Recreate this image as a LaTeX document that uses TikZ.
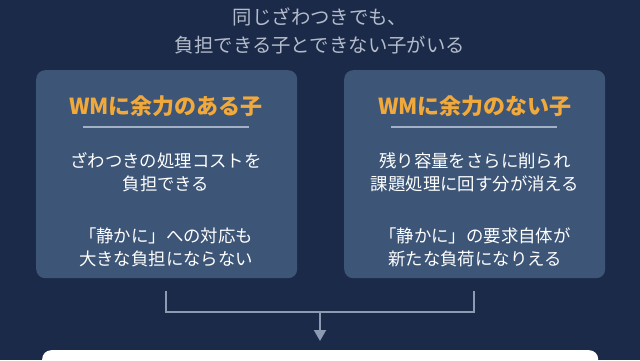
\documentclass[tikz,border=0pt]{standalone}
\usepackage{fontspec}
\setmainfont{Noto Sans CJK JP}
\usetikzlibrary{arrows.meta}
\definecolor{bg}{HTML}{1B2A48}
\definecolor{boxfill}{HTML}{3D5577}
\definecolor{headc}{HTML}{F2A93B}
\definecolor{rulec}{HTML}{A3B1C6}
\definecolor{titlec}{HTML}{B4BCCB}
\definecolor{connc}{HTML}{8C9BB1}
\tikzset{
  panel/.style={fill=boxfill, rounded corners=9pt, draw=none},
  heading/.style={text=headc, font=\fontsize{22}{26}\selectfont\bfseries, inner sep=0pt},
  bodytxt/.style={text=white, font=\fontsize{17.4}{23}\selectfont, align=center, inner sep=0pt},
  titletxt/.style={text=titlec, font=\fontsize{19.4}{28}\selectfont, align=center, inner sep=0pt},
  hrule/.style={rulec, line width=1.5pt},
  conn/.style={connc, line width=2pt},
}
\begin{document}
\begin{tikzpicture}[x=1pt,y=-1pt]
\fill[bg] (0,0) rectangle (640,360);
\useasboundingbox (0,0) rectangle (640,360);
\node[titletxt] (title) at (320,31) {同じざわつきでも、\\負担できる子とできない子がいる};
% left panel
\node[panel, minimum width=261pt, minimum height=208pt, anchor=north west] (lbox) at (36,70) {};
\node[heading] (lhead) at (166,106) {WMに余力のある子};
\coordinate (lr1) at (83,127);
\coordinate (lr2) at (249,127);
\draw[hrule] (lr1) -- (lr2);
\node[bodytxt] (lb1) at (166,172) {ざわつきの処理コストを\\負担できる};
\node[bodytxt] (lb2) at (166,247) {「静かに」への対応も\\大きな負担にならない};
% right panel
\node[panel, minimum width=261pt, minimum height=208pt, anchor=north west] (rbox) at (344,70) {};
\node[heading] (rhead) at (475,106) {WMに余力のない子};
\coordinate (rr1) at (391,127);
\coordinate (rr2) at (557,127);
\draw[hrule] (rr1) -- (rr2);
\node[bodytxt] (rb1) at (475,172) {残り容量をさらに削られ\\課題処理に回す分が消える};
\node[bodytxt] (rb2) at (475,247) {「静かに」の要求自体が\\新たな負荷になりえる};
% bottom white panel
\node[fill=white, rounded corners=9pt, minimum width=556pt, minimum height=60pt, anchor=north west] (wbox) at (42,350) {};
% connectors
\coordinate (la) at (166,291);
\coordinate (ra) at (474,291);
\coordinate (lb) at (166,312);
\coordinate (rb) at (474,312);
\coordinate (mid) at (320,312);
\coordinate (tip) at (320,341);
\draw[conn] (la) -- (lb) -- (rb) -- (ra);
\draw[conn, -{Triangle[length=11pt,width=12pt]}] (mid) -- (tip);
\end{tikzpicture}
\end{document}
